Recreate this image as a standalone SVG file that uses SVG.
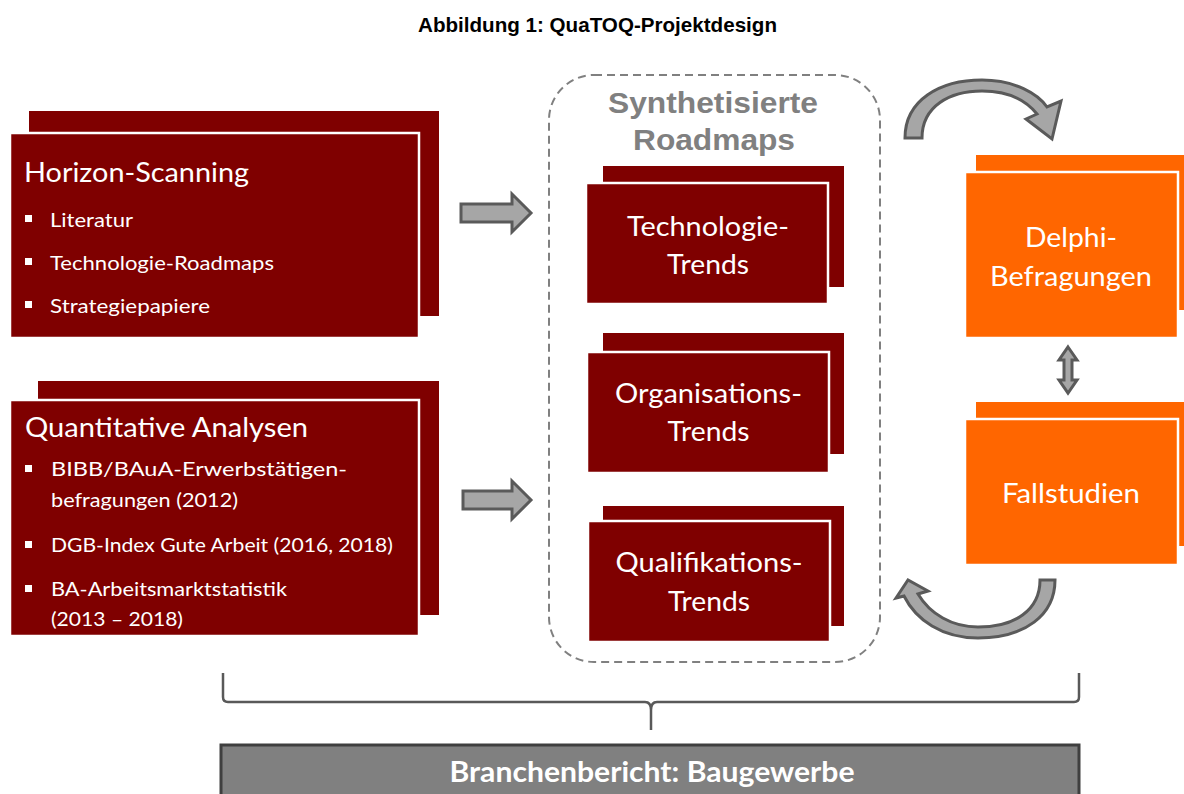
<svg xmlns="http://www.w3.org/2000/svg" width="1184" height="794" viewBox="0 0 1184 794">
<defs>
<style>
.red{fill:#7f0000}
.redf{fill:#7f0000;stroke:#ffffff;stroke-width:2.5}
.org{fill:#ff6600}
.orgf{fill:#ff6600;stroke:#ffffff;stroke-width:2.5}
.t{font-family:Lato,"Open Sans",sans-serif;fill:#ffffff}
.h{font-size:27px}
.b{font-size:20px}
.c{font-size:27px;text-anchor:middle}
.arr{fill:#a6a6a6;stroke:#5a5a5a;stroke-width:3;stroke-linejoin:miter}
.bul{fill:#ffffff}
</style>
</defs>
<rect width="1184" height="794" fill="#ffffff"/>
<text x="597.5" y="32" text-anchor="middle" font-family="'Liberation Sans',Arial,sans-serif" font-weight="bold" font-size="20.5" fill="#000000" textLength="359" lengthAdjust="spacingAndGlyphs">Abbildung 1: QuaTOQ-Projektdesign</text>

<g id="horizon">
<rect class="red" x="29" y="111" width="410" height="205"/>
<rect class="redf" x="10" y="133" width="409" height="205"/>
<text class="t h" x="24" y="182" textLength="225" lengthAdjust="spacingAndGlyphs">Horizon-Scanning</text>
<rect class="bul" x="25" y="215" width="7" height="7"/>
<text class="t b" x="50" y="227" textLength="83" lengthAdjust="spacingAndGlyphs">Literatur</text>
<rect class="bul" x="25" y="258" width="7" height="7"/>
<text class="t b" x="50" y="270" textLength="224" lengthAdjust="spacingAndGlyphs">Technologie-Roadmaps</text>
<rect class="bul" x="25" y="301" width="7" height="7"/>
<text class="t b" x="50" y="313" textLength="160" lengthAdjust="spacingAndGlyphs">Strategiepapiere</text>
</g>

<g id="quant">
<rect class="red" x="38" y="381" width="401" height="234"/>
<rect class="redf" x="10" y="400" width="409" height="236"/>
<text class="t h" x="25" y="437" textLength="283" lengthAdjust="spacingAndGlyphs">Quantitative Analysen</text>
<rect class="bul" x="25" y="465" width="7" height="7"/>
<text class="t b" x="51" y="476" textLength="296" lengthAdjust="spacingAndGlyphs">BIBB/BAuA-Erwerbstätigen-</text>
<text class="t b" x="51" y="507" textLength="187" lengthAdjust="spacingAndGlyphs">befragungen (2012)</text>
<rect class="bul" x="25" y="541" width="7" height="7"/>
<text class="t b" x="51" y="552" textLength="342" lengthAdjust="spacingAndGlyphs">DGB-Index Gute Arbeit (2016, 2018)</text>
<rect class="bul" x="25" y="585" width="7" height="7"/>
<text class="t b" x="51" y="596" textLength="236" lengthAdjust="spacingAndGlyphs">BA-Arbeitsmarktstatistik</text>
<text class="t b" x="51" y="626" textLength="132" lengthAdjust="spacingAndGlyphs">(2013 – 2018)</text>
</g>

<g id="roadmaps">
<rect x="549" y="75" width="331" height="587" rx="45" ry="45" fill="none" stroke="#808080" stroke-width="2" stroke-dasharray="8,5"/>
<text x="713" y="113" text-anchor="middle" font-family="'Liberation Sans',Arial,sans-serif" font-weight="bold" font-size="30" fill="#808080" textLength="210" lengthAdjust="spacingAndGlyphs">Synthetisierte</text>
<text x="714" y="150" text-anchor="middle" font-family="'Liberation Sans',Arial,sans-serif" font-weight="bold" font-size="30" fill="#808080" textLength="162" lengthAdjust="spacingAndGlyphs">Roadmaps</text>
</g>

<g id="tech">
<rect class="red" x="603" y="166" width="241" height="121"/>
<rect class="redf" x="586" y="183" width="242" height="121"/>
<text class="t c" x="708" y="236" textLength="162" lengthAdjust="spacingAndGlyphs">Technologie-</text>
<text class="t c" x="708" y="274" textLength="82" lengthAdjust="spacingAndGlyphs">Trends</text>
</g>

<g id="orga">
<rect class="red" x="603" y="333" width="241" height="121"/>
<rect class="redf" x="587" y="352" width="242" height="121"/>
<text class="t c" x="708.5" y="403" textLength="187" lengthAdjust="spacingAndGlyphs">Organisations-</text>
<text class="t c" x="708.5" y="441" textLength="82" lengthAdjust="spacingAndGlyphs">Trends</text>
</g>

<g id="quali">
<rect class="red" x="603" y="506" width="241" height="120"/>
<rect class="redf" x="588" y="521" width="242" height="121"/>
<text class="t c" x="709" y="572" textLength="187" lengthAdjust="spacingAndGlyphs">Qualifikations-</text>
<text class="t c" x="709" y="611" textLength="82" lengthAdjust="spacingAndGlyphs">Trends</text>
</g>

<g id="delphi">
<rect class="org" x="976" y="155" width="210" height="155"/>
<rect class="orgf" x="965" y="172" width="213" height="166"/>
<text class="t c" x="1071" y="247" textLength="92" lengthAdjust="spacingAndGlyphs">Delphi-</text>
<text class="t c" x="1071" y="286" textLength="162" lengthAdjust="spacingAndGlyphs">Befragungen</text>
</g>

<g id="fall">
<rect class="org" x="976" y="402" width="210" height="144"/>
<rect class="orgf" x="965" y="419" width="213" height="146"/>
<text class="t c" x="1071" y="503" textLength="138" lengthAdjust="spacingAndGlyphs">Fallstudien</text>
</g>

<g id="connectors">
<path class="arr" d="M461,204 L512,204 L512,194 L531,213 L512,232 L512,222 L461,222 Z"/>
<path class="arr" d="M463,491 L512,491 L512,481 L531,500 L512,519 L512,509 L463,509 Z"/>
<path class="arr" d="M905,138 C905,100 940,80 982,80 C1015,80 1038,94 1047,107 L1061,101 L1052,139 L1026,119 L1037,114 C1025,99 1006,91 982,91 C950,91 922,106 922,138 Z"/>
<path class="arr" d="M1055,580 C1055,615 1025,638 978,638 C942,638 916,620 904,596 L896,598 L908,580 L928,591 L918,594 C930,614 952,627 978,627 C1015,627 1040,610 1040,580 Z"/>
<path class="arr" stroke-width="2.5" d="M1068,347 L1077,360 L1072,360 L1072,380 L1077,380 L1068,393 L1059,380 L1064,380 L1064,360 L1059,360 Z"/>
<path d="M223,673 L223,697 Q223,702 228,702 L645,702 Q651,702 651,710 L651,730 M651,710 Q651,702 657,702 L1074,702 Q1079,702 1079,697 L1079,673" fill="none" stroke="#595959" stroke-width="2.5"/>
</g>

<g id="bericht">
<rect x="221" y="745" width="858" height="60" fill="#808080" stroke="#3f3f3f" stroke-width="3"/>
<text x="652" y="782" text-anchor="middle" font-family="Lato,'Open Sans',sans-serif" font-weight="bold" font-size="28" fill="#ffffff" textLength="405" lengthAdjust="spacingAndGlyphs">Branchenbericht: Baugewerbe</text>
</g>
</svg>
